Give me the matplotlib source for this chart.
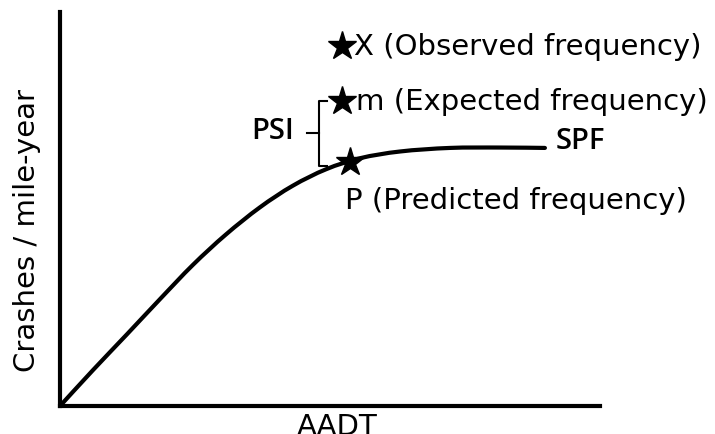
import matplotlib
matplotlib.use("Agg")
import matplotlib.pyplot as plt
from matplotlib.path import Path
from matplotlib.patches import PathPatch

# ---- data (arbitrary units: AADT 0-100, crashes 0-100) ----
aadt = [0, 6.1, 12.4, 18.5, 24.6, 30.7, 37.0, 43.1, 49.3, 55.6, 63.0, 72.2, 81.5, 89.8]
spf = [0, 9.1, 18.2, 27.1, 35.8, 43.5, 50.4, 55.9, 60.1, 62.9, 64.6, 65.5, 65.6, 65.5]

star_labels = ["X (Observed frequency)", "m (Expected frequency)", "P (Predicted frequency)"]
star_x = [52.2, 52.2, 53.7]
star_y = [91.4, 77.4, 61.9]

x_label = "AADT"
y_label = "Crashes / mile-year"
curve_label = "SPF"
bracket_label = "PSI"

plt.rcParams['font.family'] = ['DejaVu Sans']

fig = plt.figure(figsize=(7.15, 4.35), dpi=100)
ax = fig.add_axes([60/715, 28/435, 540/715, 394/435])
ax.set_xlim(0, 100)
ax.set_ylim(0, 100)
for s in ['top', 'right']:
    ax.spines[s].set_visible(False)
for s in ['left', 'bottom']:
    ax.spines[s].set_linewidth(3)
ax.set_xticks([])
ax.set_yticks([])

# smooth SPF curve through the read points (Catmull-Rom -> cubic Bezier)
pts = list(zip(aadt, spf))
verts = [pts[0]]
codes = [Path.MOVETO]
n = len(pts)
for i in range(n - 1):
    p0 = pts[i - 1] if i > 0 else pts[i]
    p1 = pts[i]
    p2 = pts[i + 1]
    p3 = pts[i + 2] if i + 2 < n else pts[i + 1]
    c1 = (p1[0] + (p2[0] - p0[0]) / 6, p1[1] + (p2[1] - p0[1]) / 6)
    c2 = (p2[0] - (p3[0] - p1[0]) / 6, p2[1] - (p3[1] - p1[1]) / 6)
    verts += [c1, c2, p2]
    codes += [Path.CURVE4] * 3
ax.add_patch(PathPatch(Path(verts, codes), fill=False, edgecolor='black', lw=3,
                       capstyle='round', joinstyle='round'))

ax.plot(star_x, star_y, linestyle='none', marker='*', markersize=21, color='black', clip_on=False)

fs = 21
# star labels
ax.text(star_x[0] + 2.3, star_y[0], star_labels[0], fontsize=fs, ha='left', va='center')
ax.text(star_x[1] + 2.7, star_y[1], star_labels[1], fontsize=fs, ha='left', va='center')
ax.text(star_x[2] - 0.9, star_y[2] - 9.5, star_labels[2], fontsize=fs, ha='left', va='center')

bold_font = dict(family=['Open Sans', 'DejaVu Sans'], fontweight='semibold', fontsize=21)
# SPF label
ax.text(aadt[-1] + 2.0, spf[-1] + 2.0, curve_label, ha='left', va='center', **bold_font)

# PSI bracket
bx = 48.0
ax.plot([bx + 1.4, bx, bx, bx + 1.4], [star_y[1], star_y[1], star_y[2] - 0.9, star_y[2] - 0.9],
        color='black', lw=1.5, clip_on=False)
mid = (star_y[1] + star_y[2] - 0.9) / 2
ax.plot([bx - 2.2, bx], [mid, mid], color='black', lw=1.5)
ax.text(bx - 4.6, mid + 0.8, bracket_label, ha='right', va='center', **bold_font)

# axis labels
ax.text(51.3, -1.5, x_label, fontsize=fs, ha='center', va='top', clip_on=False)
ax.text(-6.1, 44.7, y_label, fontsize=fs, rotation=90, ha='center', va='center', clip_on=False)

fig.savefig("out.png", dpi=100)
